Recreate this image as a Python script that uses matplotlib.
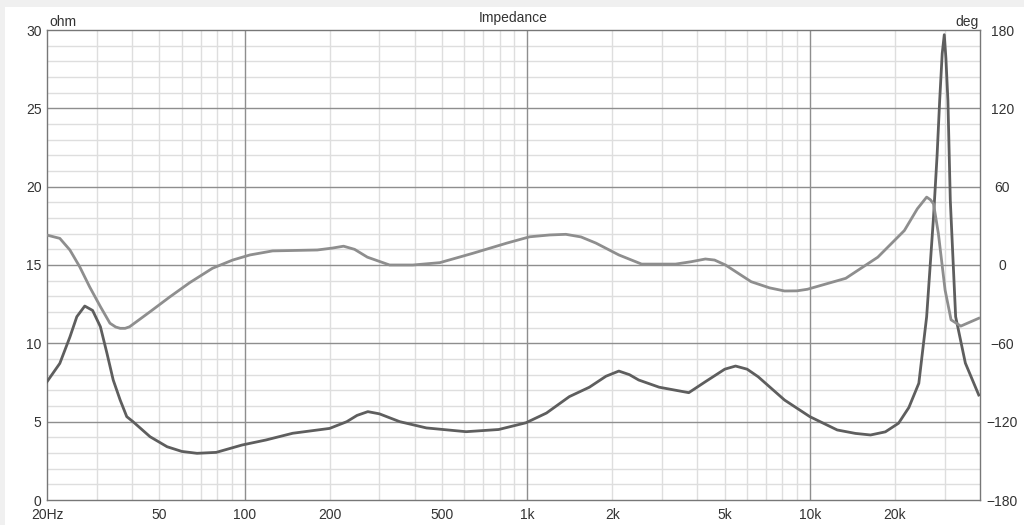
import numpy as np
import matplotlib
matplotlib.use('Agg')
import matplotlib.pyplot as plt
from matplotlib.patches import Rectangle
from matplotlib.ticker import FixedLocator, NullFormatter

# impedance magnitude (ohm)
imp_freq = [20, 22.2, 24.1, 25.5, 27.2, 29.0, 30.9, 32.6, 34.3, 36.3, 38.3, 40.3, 46.3,
            53.2, 60, 67.9, 79.4, 98.0, 119, 148, 200, 230, 250, 273, 300, 354, 440, 608,
            793, 990, 1170, 1410, 1660, 1900, 2110, 2300, 2480, 2930, 3730, 4270, 5000,
            5460, 6000, 6560, 8140, 10000, 12500, 14500, 16400, 18500, 20600, 22400,
            24300, 25900, 27400, 28200, 28800, 29400, 29900, 30300, 30800, 31400,
            32800, 35500, 39600]
imp_ohm = [7.55, 8.72, 10.4, 11.7, 12.38, 12.1, 11.06, 9.36, 7.66, 6.38, 5.32, 5.0, 4.04,
           3.4, 3.1, 2.98, 3.04, 3.51, 3.83, 4.26, 4.57, 5.0, 5.4, 5.64, 5.5, 5.0, 4.6, 4.36,
           4.5, 4.93, 5.55, 6.6, 7.2, 7.9, 8.23, 8.0, 7.66, 7.2, 6.85, 7.55, 8.35,
           8.55, 8.35, 7.87, 6.38, 5.32, 4.47, 4.25, 4.15, 4.35, 4.9, 5.9,
           7.45, 11.7, 18.1, 22.0, 25.5, 28.5, 29.7, 28.2, 25.5, 19.15,
           11.7, 8.74, 6.7]

# phase (deg)
ph_freq = [20, 22.2, 24.1, 26.1, 28.3, 30.9, 33.4, 35.0, 36.3, 37.8, 39.2, 46.3, 54.5,
           64.0, 77.0, 90.8, 104.5, 125.7, 180.9, 205, 224, 245, 272, 326, 394, 491, 643,
           848, 1020, 1200, 1370, 1550, 1750, 2110, 2540, 3350, 3800, 4270, 4600, 5030,
           6200, 7200, 8140, 9000, 9800, 13400, 17400, 21600, 24000, 25900, 26700,
           27400, 28500, 30100, 31600, 34200, 39600]
ph_deg = [22.9, 20.4, 11.5, -1.3, -16.7, -31.9, -44.6, -47.5, -48.5, -48.5, -47.3, -35.8, -24.3,
          -13.5, -2.5, 3.8, 7.7, 10.8, 11.5, 13.0, 14.4, 12.0, 6.0, 0.0, 0.0, 1.8, 9.0,
          16.8, 21.6, 23.0, 23.5, 21.5, 16.8, 7.7, 0.7, 0.7, 2.5, 4.6, 3.8, 0.0,
          -12.8, -17.5, -19.9, -19.8, -18.6, -10.2, 6.0, 26.4, 43.0, 52.0, 50.0,
          46.8, 24.0, -19.2, -42.0, -46.8, -40.8]

xticks = [20, 50, 100, 200, 500, 1000, 2000, 5000, 10000, 20000]
xtick_labels = ['20Hz', '50', '100', '200', '500', '1k', '2k', '5k', '10k', '20k']

major_col = '#8e8e8e'
minor_col = '#dedede'
txt_col = '#333333'

plt.rcParams['font.family'] = ['Liberation Sans', 'DejaVu Sans']
plt.rcParams['font.size'] = 10

fig = plt.figure(figsize=(10.24, 5.25), dpi=100)
fig.patch.set_facecolor('#f0f0f0')
# white panel, leaving a thin grey strip at top and left
fig.patches.append(Rectangle((5 / 1024, 0), 1, 1 - 7 / 525, transform=fig.transFigure,
                             facecolor='white', edgecolor='none', zorder=-10))

ax = fig.add_axes([47 / 1024, 25 / 525, 933 / 1024, 470 / 525])
ax.set_facecolor('white')
ax.set_xscale('log')
ax.set_xlim(20, 40000)
ax.set_ylim(0, 30)

# grid lines
vminor = [f * d for d in [10, 100, 1000, 10000] for f in range(2, 10)]
vminor = [v for v in vminor if 20 < v < 40000]
for v in vminor:
    ax.axvline(v, color=minor_col, lw=1, zorder=0)
for v in [100, 1000, 10000]:
    ax.axvline(v, color=major_col, lw=1, zorder=1)
for h in range(1, 30):
    ax.axhline(h, color=major_col if h % 5 == 0 else minor_col, lw=1,
               zorder=1 if h % 5 == 0 else 0)

ax.xaxis.set_major_locator(FixedLocator(xticks))
ax.set_xticklabels(xtick_labels)
ax.xaxis.set_minor_locator(FixedLocator([]))
ax.xaxis.set_minor_formatter(NullFormatter())
ax.set_yticks(range(0, 31, 5))
ax.tick_params(axis='both', length=0, colors=txt_col, labelsize=10)
ax.tick_params(axis='x', pad=6)
ax.tick_params(axis='y', pad=4)
for s in ax.spines.values():
    s.set_color('#777777')
    s.set_linewidth(1)

ax.plot(imp_freq, imp_ohm, color='#5e5e5e', lw=2.0, zorder=5, solid_joinstyle='round')

ax2 = ax.twinx()
ax2.set_ylim(-180, 180)
ax2.set_yticks(range(-180, 181, 60))
ax2.tick_params(axis='y', length=0, colors=txt_col, labelsize=10, pad=16)
for lab in ax2.get_yticklabels():
    lab.set_horizontalalignment('center')
for s in ax2.spines.values():
    s.set_visible(False)
ax2.plot(ph_freq, ph_deg, color='#8e8e8e', lw=2.0, zorder=4, solid_joinstyle='round')

ax.text(0.003, 1.003, 'ohm', transform=ax.transAxes, ha='left', va='bottom',
        color=txt_col, fontsize=10)
ax.text(0.998, 1.003, 'deg', transform=ax.transAxes, ha='right', va='bottom',
        color=txt_col, fontsize=10)
ax.set_title('Impedance', fontsize=10, color=txt_col, pad=6)

fig.savefig('out.png', dpi=100, facecolor=fig.get_facecolor())
